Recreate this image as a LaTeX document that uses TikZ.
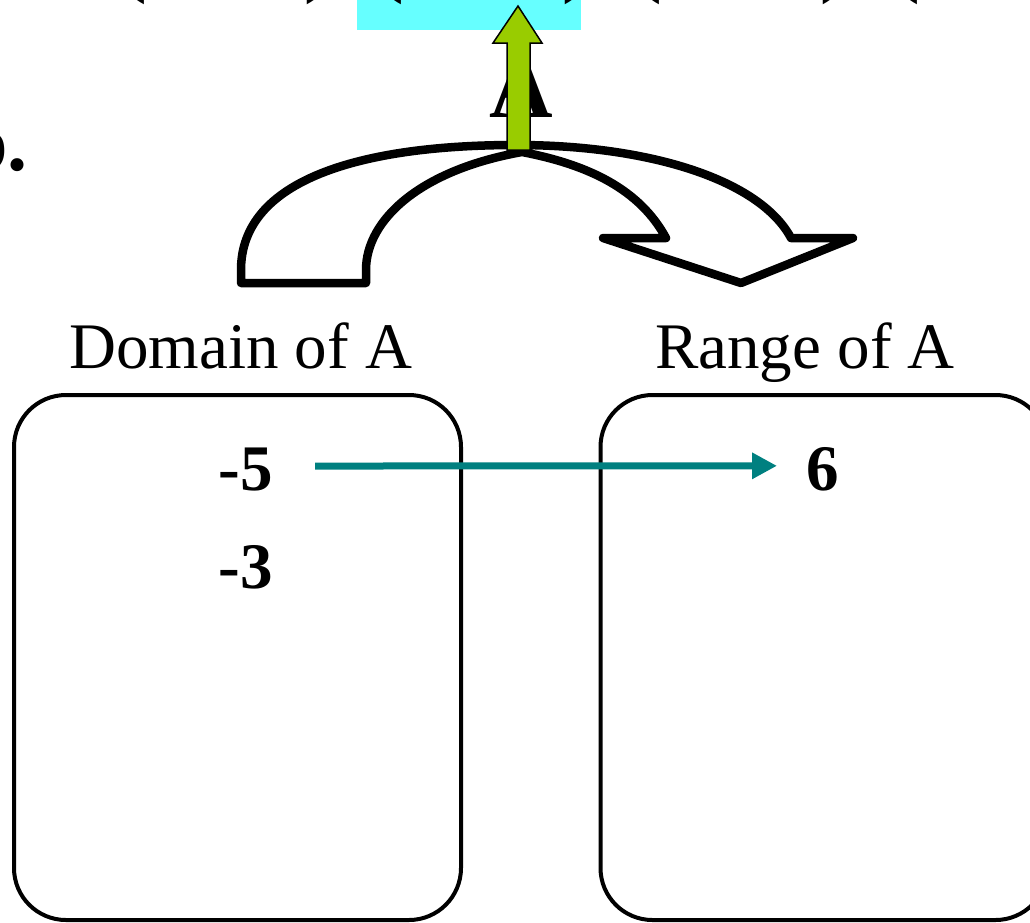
\documentclass[tikz,border=0pt]{standalone}
\usepackage{fontspec}
\setmainfont{Liberation Serif}
\usetikzlibrary{arrows.meta}
\definecolor{hlcyan}{HTML}{66FFFF}
\definecolor{lgreen}{HTML}{99CC00}
\definecolor{tealarrow}{HTML}{008080}
\tikzset{
  setbox/.style={draw=black, line width=4pt, rounded corners=52pt, minimum width=447pt, minimum height=525pt, inner sep=0pt},
  lbl/.style={inner sep=0pt, font=\fontsize{65}{78}\selectfont},
  num/.style={inner sep=0pt, font=\fontsize{65}{78}\selectfont\bfseries},
  big/.style={inner sep=0pt, font=\fontsize{86}{100}\selectfont\bfseries},
  curvedarrow/.style={draw=black, line width=8.5pt, line join=round, line cap=round, fill=white},
  uparrow/.style={draw=black, line width=1.5pt, fill=lgreen, line join=miter},
  mapto/.style={draw=tealarrow, line width=7pt, -{Triangle[length=25pt,width=25pt]}}
}
\begin{document}
\begin{tikzpicture}[x=1pt,y=-1pt]
\useasboundingbox (0,0) rectangle (1030,922);
\clip (0,0) rectangle (1030,922);
% highlighted pair background
\fill[hlcyan] (357,-5) rectangle (581,30);
% cropped top line
\node[big, anchor=base west] (setline) at (84,-14) {\{(-5, 6), (-3, 6), (-1, 6), (2, 6)\}};
% partial item label
\node[inner sep=0pt, font=\fontsize{80}{96}\selectfont\bfseries, anchor=base east] (item) at (28,170) {b.};
% relation name
\node[inner sep=0pt, font=\fontsize{88}{100}\selectfont\bfseries, anchor=base] (rel) at (521,117) {A};
% curved arrow
\path[curvedarrow] (241,283) -- (241,270)
  .. controls (241,180) and (360,145) .. (516,145)
  .. controls (650,145) and (760,180) .. (791,238)
  -- (853,238) -- (741,283) -- (603,238) -- (666,238)
  .. controls (640,190) and (590,165) .. (522,152)
  .. controls (420,170) and (366,220) .. (366,270)
  -- (366,283) -- cycle;
% green up arrow
\path[uparrow] (507,150) -- (507,43) -- (493,43) -- (518,6) -- (542,43) -- (530,43) -- (530,150) -- cycle;
% labels
\node[lbl, anchor=base west] (domlbl) at (69,368) {Domain of A};
\node[lbl, anchor=base west] (ranlbl) at (655,368) {Range of A};
% boxes
\node[setbox] (dom) at (237.5,657.5) {};
\node[setbox] (ran) at (824,657.5) {};
% elements
\node[num, anchor=base east] (m5) at (273,490) {-5};
\node[num, anchor=base east] (m3) at (273,588) {-3};
\node[num, anchor=base west] (p6) at (806,490) {6};
\draw[mapto, shorten <=42pt, shorten >=29pt] ([yshift=3pt]m5.east) -- ([yshift=3pt]p6.west);
\end{tikzpicture}
\end{document}
